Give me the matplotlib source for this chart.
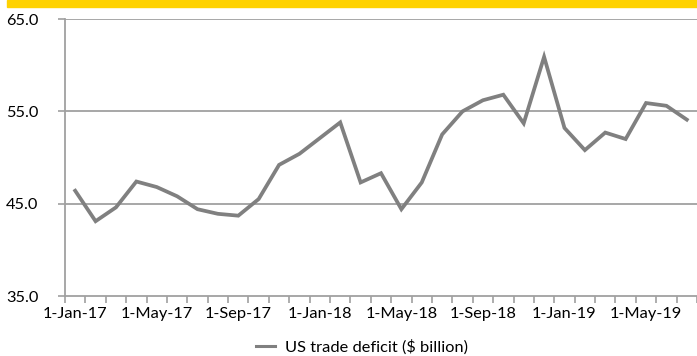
import numpy as np
import matplotlib.pyplot as plt
from matplotlib.patches import Rectangle

months = ['Jan-17', 'Feb-17', 'Mar-17', 'Apr-17', 'May-17', 'Jun-17', 'Jul-17', 'Aug-17',
          'Sep-17', 'Oct-17', 'Nov-17', 'Dec-17', 'Jan-18', 'Feb-18', 'Mar-18', 'Apr-18',
          'May-18', 'Jun-18', 'Jul-18', 'Aug-18', 'Sep-18', 'Oct-18', 'Nov-18', 'Dec-18',
          'Jan-19', 'Feb-19', 'Mar-19', 'Apr-19', 'May-19', 'Jun-19', 'Jul-19']
deficit = [46.4, 43.1, 44.6, 47.4, 46.8, 45.8, 44.4, 43.9, 43.7, 45.5, 49.2, 50.4,
           52.1, 53.8, 47.3, 48.3, 44.4, 47.3, 52.5, 55.0, 56.2, 56.8, 53.7, 60.9,
           53.2, 50.8, 52.7, 52.0, 55.9, 55.6, 54.1]
tick_labels = ['1-Jan-17', '1-May-17', '1-Sep-17', '1-Jan-18', '1-May-18',
               '1-Sep-18', '1-Jan-19', '1-May-19']

plt.rcParams['font.family'] = ['Lato', 'DejaVu Sans']
grey = '#A0A0A0'
fs = 11.8

fig = plt.figure(figsize=(6.97, 3.56), dpi=100)
ax = fig.add_axes([65 / 697, 1 - 296 / 356, 632 / 697, 277 / 356])

x = np.arange(len(deficit))
ax.plot(x, deficit, color='#808080', linewidth=2.7, solid_joinstyle='miter',
        label='US trade deficit ($ billion)', clip_on=False, zorder=3)

ax.set_xlim(-0.5, len(deficit) - 0.5)
ax.set_ylim(35, 65)
ax.set_yticks([35, 45, 55, 65])
ax.set_yticklabels(['35.0', '45.0', '55.0', '65.0'])
ax.set_xticks(np.arange(0, len(deficit), 4))
ax.set_xticklabels(tick_labels)
ax.set_xticks(np.arange(-0.5, len(deficit), 1), minor=True)

ax.tick_params(axis='x', which='major', length=0, pad=8, labelsize=fs, colors='black')
ax.tick_params(axis='x', which='minor', length=5, width=1.2, color=grey, direction='out')
ax.tick_params(axis='y', length=5, width=1.2, color=grey, pad=14, labelsize=fs)

for y in [45, 55, 65]:
    ax.axhline(y, color=grey, linewidth=1.3, zorder=1)

for side in ['top', 'right']:
    ax.spines[side].set_visible(False)
for side in ['left', 'bottom']:
    ax.spines[side].set_color(grey)
    ax.spines[side].set_linewidth(1.3)

leg = ax.legend(loc='center', bbox_to_anchor=(362 / 697, 1 - 347 / 356),
                bbox_transform=fig.transFigure, frameon=False, fontsize=fs,
                handlelength=1.2, handletextpad=0.6)
leg.get_lines()[0].set_linewidth(2.2)

fig.patches.append(Rectangle((7 / 697, 1 - 7 / 356), 690 / 697, 7 / 356,
                             transform=fig.transFigure, color='#FFD200', zorder=0))

fig.savefig('out.png', dpi=100)
